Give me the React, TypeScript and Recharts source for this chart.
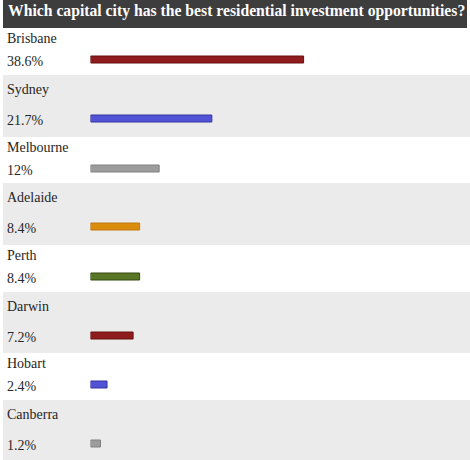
import React from 'react';
import { BarChart, Bar, XAxis, YAxis, Cell } from 'recharts';

const TITLE = 'Which capital city has the best residential investment opportunities?';
const cities = ['Brisbane', 'Sydney', 'Melbourne', 'Adelaide', 'Perth', 'Darwin', 'Hobart', 'Canberra'];
const shares = [38.6, 21.7, 12, 8.4, 8.4, 7.2, 2.4, 1.2];
const shareLabels = ['38.6%', '21.7%', '12%', '8.4%', '8.4%', '7.2%', '2.4%', '1.2%'];
const barFills = ['#8e1c1c', '#5252d6', '#9c9c9c', '#da8c0c', '#587726', '#8e1c1c', '#5252d6', '#9c9c9c'];
const barStrokes = ['#6a1010', '#3535a0', '#808080', '#c07810', '#32490f', '#6a1010', '#3535a0', '#808080'];

// layout (pixels)
const ROW_TOPS = [28, 75, 137, 183, 245, 292, 353, 400, 460];
const PX_PER_PCT = 5.43;
const ZERO_X = 94; // page x where value 0 would end
const BAR_START_X = 90.5;
const FONT = '"Liberation Serif", "Times New Roman", serif';

const CHART_W = 470;
const BASE = (BAR_START_X - ZERO_X) / PX_PER_PCT;
const DOMAIN_MAX = BASE + (CHART_W - BAR_START_X) / PX_PER_PCT;

function RowBar({ i }: { i: number }) {
  const data = [{ name: cities[i], value: shares[i] }];
  return (
    <BarChart
      width={CHART_W}
      height={20}
      data={data}
      layout="vertical"
      margin={{ top: 0, right: 0, bottom: 0, left: BAR_START_X }}
    >
      <XAxis type="number" hide domain={[BASE, DOMAIN_MAX]} allowDataOverflow />
      <YAxis type="category" dataKey="name" hide />
      <Bar
        dataKey={(d: any) => [BASE, d.value]}
        barSize={7}
        isAnimationActive={false}
        strokeWidth={1}
      >
        {data.map((_, k) => (
          <Cell key={k} fill={barFills[i]} stroke={barStrokes[i]} />
        ))}
      </Bar>
    </BarChart>
  );
}

export default function App() {
  const fs = 14;
  const baseOff = fs * (0.891 - 0.0535);
  return (
    <div
      style={{
        position: 'absolute',
        left: 0,
        top: 0,
        width: 470,
        height: 460,
        background: '#ffffff',
        overflow: 'hidden',
        fontFamily: FONT,
      }}
    >
      <div
        style={{
          position: 'absolute',
          left: 3,
          top: 0,
          width: 464,
          height: 28,
          background: '#3d3d3d',
        }}
      />
      <div
        style={{
          position: 'absolute',
          left: 8,
          top: 16.5 - 15.7 * (0.891 - 0.0535),
          fontSize: 15.7,
          lineHeight: 1,
          fontWeight: 'bold',
          color: '#ffffff',
          whiteSpace: 'nowrap',
        }}
      >
        {TITLE}
      </div>
      {cities.map((c, i) => {
        const top = ROW_TOPS[i];
        const h = ROW_TOPS[i + 1] - top;
        const tall = i % 2 === 1;
        const labelBase = tall ? 20 : 16;
        const valueBase = tall ? 50.5 : 38.8;
        const barTop = tall ? 38.5 : 27.3;
        return (
          <div
            key={c}
            style={{ position: 'absolute', left: 0, top, width: 470, height: h }}
          >
            <div
              style={{
                position: 'absolute',
                left: 3,
                top: 0,
                width: 467,
                height: h,
                background: tall ? '#ebebeb' : '#ffffff',
              }}
            />
            <div
              style={{
                position: 'absolute',
                left: 7,
                top: labelBase - baseOff,
                fontSize: fs,
                lineHeight: 1,
                color: '#262626',
                whiteSpace: 'nowrap',
              }}
            >
              {c}
            </div>
            <div
              style={{
                position: 'absolute',
                left: 7,
                top: valueBase - baseOff,
                fontSize: fs,
                lineHeight: 1,
                color: '#262626',
                whiteSpace: 'nowrap',
              }}
            >
              {shareLabels[i]}
            </div>
            <div style={{ position: 'absolute', left: 0, top: barTop - 6 }}>
              <RowBar i={i} />
            </div>
          </div>
        );
      })}
    </div>
  );
}
